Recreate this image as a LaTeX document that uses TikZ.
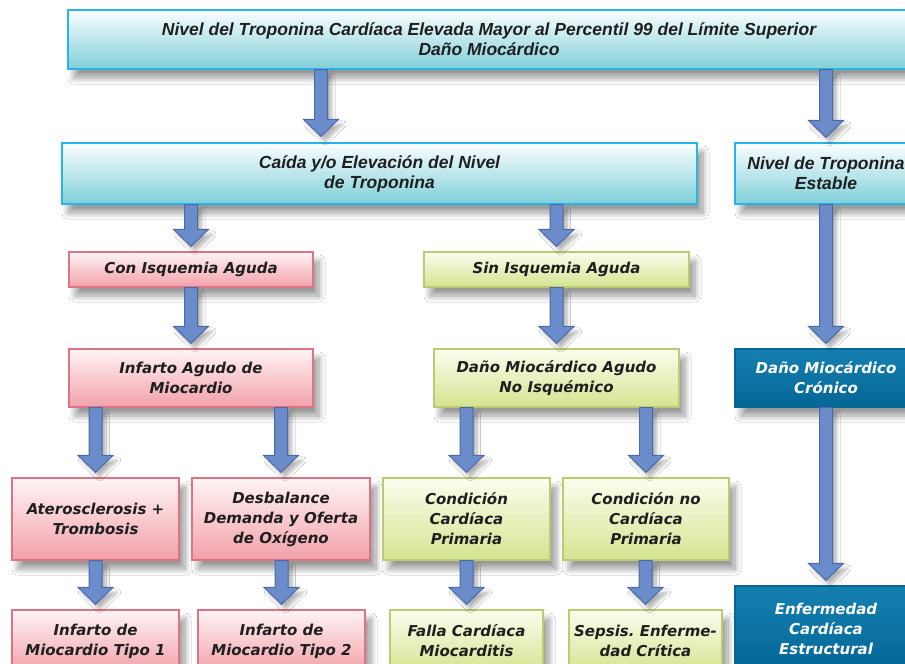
\documentclass[tikz,border=0pt]{standalone}
\usepackage{fontspec}
\setmainfont{DejaVu Sans}
\newfontfamily\arialfont{Liberation Sans}
\usetikzlibrary{calc}
\usetikzlibrary{shadows.blur}
\definecolor{cyanline}{HTML}{27B4E6}
\definecolor{cyantop}{HTML}{FBFEFE}
\definecolor{cyanbot}{HTML}{7FCFD9}
\definecolor{pinkline}{HTML}{DC7484}
\definecolor{pinktop}{HTML}{FEF4F5}
\definecolor{pinkbot}{HTML}{F2A0A9}
\definecolor{greenline}{HTML}{BACB72}
\definecolor{greentop}{HTML}{FBFDEE}
\definecolor{greenbot}{HTML}{D4E490}
\definecolor{navytop}{HTML}{1580B0}
\definecolor{navybot}{HTML}{046796}
\definecolor{arrowfillc}{HTML}{6B8CCB}
\definecolor{arrowline}{HTML}{4C69A6}
\frenchspacing
\tikzset{
    box/.style={draw, line width=1.3pt, inner sep=0pt, align=center, text=black!88,
        font=\bfseries\itshape\fontsize{15}{20}\selectfont,
        blur shadow={shadow xshift=6pt, shadow yshift=-9pt, shadow blur steps=20, shadow blur radius=6pt, shadow opacity=40}},
    cyanbox/.style={box, draw=cyanline, top color=cyantop, bottom color=cyanbot,
        font=\arialfont\bfseries\itshape\fontsize{17.5}{20}\selectfont},
    pinkbox/.style={box, draw=pinkline, top color=pinktop, bottom color=pinkbot},
    greenbox/.style={box, draw=greenline, top color=greentop, bottom color=greenbot},
    navybox/.style={box, draw=navybot, top color=navytop, bottom color=navybot, text=white},
    fatarrow/.style={draw=arrowline, fill=arrowfillc, line width=1pt, line join=miter,
        blur shadow={shadow xshift=4pt, shadow yshift=-5pt, shadow blur steps=12, shadow blur radius=3.5pt, shadow opacity=30}}
}
% broad block arrow from #1 down to #2
\newcommand{\blockarrow}[2]{%
    \draw[fatarrow] let \p1=#1, \p2=#2 in
        (\x2-6.5pt,\y1) -- (\x2-6.5pt,\y2+17pt) -- (\x2-17.5pt,\y2+17pt) -- (\x2,\y2)
        -- (\x2+17.5pt,\y2+17pt) -- (\x2+6.5pt,\y2+17pt) -- (\x2+6.5pt,\y1) -- cycle;
}
\begin{document}
\begin{tikzpicture}[x=1pt, y=-1pt]
\useasboundingbox[fill=white] (0,0) rectangle (905,664);
% top level
\node[cyanbox, minimum width=842, minimum height=59] (top) at (489,39.5)
    {Nivel del Troponina Cardíaca Elevada Mayor al Percentil 99 del Límite Superior\\Daño Miocárdico};
\node[cyanbox, minimum width=635, minimum height=61] (cai) at (379.5,173.5)
    {Caída y/o Elevación del Nivel\\de Troponina};
\node[cyanbox, minimum width=182, minimum height=61] (est) at (826,173.5)
    {Nivel de Troponina\\Estable};
% second level
\node[pinkbox, minimum width=244, minimum height=35] (con) at (191,269.5) {Con Isquemia Aguda};
\node[greenbox, minimum width=265, minimum height=35] (sin) at (556.5,269.5) {Sin Isquemia Aguda};
\node[pinkbox, minimum width=244, minimum height=58] (iam) at (191,378) {Infarto Agudo de\\Miocardio};
\node[greenbox, minimum width=245, minimum height=58] (dmna) at (556.5,378) {Daño Miocárdico Agudo\\No Isquémico};
\node[navybox, minimum width=182, minimum height=58] (cron) at (826,378) {Daño Miocárdico\\Crónico};
% causes
\node[pinkbox, minimum width=167, minimum height=82] (ate) at (95.5,519) {Aterosclerosis +\\Trombosis};
\node[pinkbox, minimum width=178, minimum height=82] (des) at (281,519) {Desbalance\\Demanda y Oferta\\de Oxígeno};
\node[greenbox, minimum width=167, minimum height=82] (ccp) at (466.5,519) {Condición\\Cardíaca\\Primaria};
\node[greenbox, minimum width=166, minimum height=82] (cncp) at (646,519) {Condición no\\Cardíaca\\Primaria};
% bottom row
\node[pinkbox, minimum width=167, minimum height=62] (ti1) at (95.5,641) {Infarto de\\Miocardio Tipo 1};
\node[pinkbox, minimum width=167, minimum height=62] (ti2) at (281.5,641) {Infarto de\\Miocardio Tipo 2};
\node[greenbox, minimum width=153, minimum height=62] (fal) at (466.5,641) {Falla Cardíaca\\Miocarditis};
\node[greenbox, minimum width=153, minimum height=62] (sep) at (645.5,641) {Sepsis. Enferme-\\dad Crítica};
\node[navybox, minimum width=182, minimum height=86] (estr) at (826,629) {Enfermedad\\Cardíaca\\Estructural};
% arrows
\blockarrow{(top.south)}{([xshift=-58.5pt,yshift=6pt]cai.north)}
\foreach \a/\b in {top/est, cai/con, cai/sin, con/iam, sin/dmna, est/cron, iam/ate, iam/des,
    dmna/ccp, dmna/cncp, ate/ti1, des/ti2, ccp/fal, cncp/sep, cron/estr}{
    \blockarrow{(\a.south)}{([yshift=5pt]\b.north)}
}
\end{tikzpicture}
\end{document}
